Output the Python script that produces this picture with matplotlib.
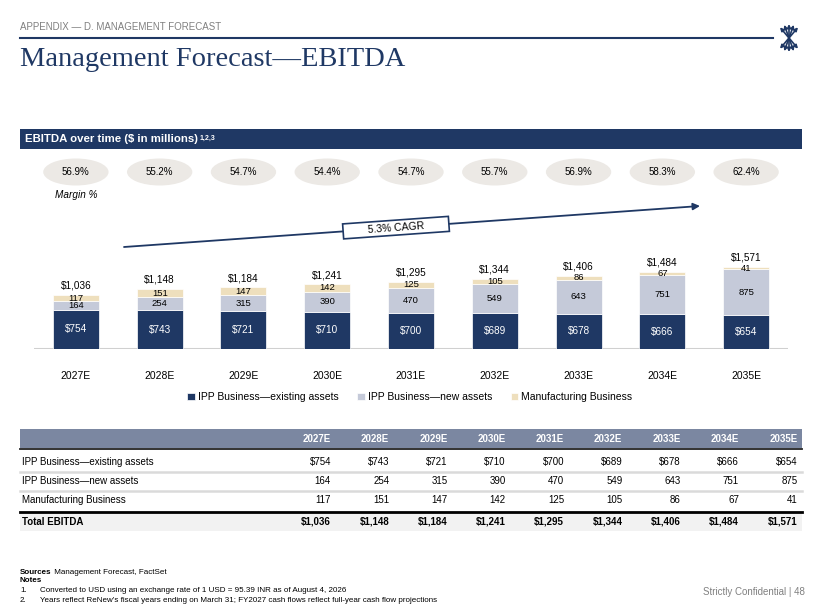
import math
import matplotlib
matplotlib.use("Agg")
import matplotlib.pyplot as plt
import matplotlib.transforms as mtransforms
from matplotlib.patches import Ellipse, Rectangle

# chart data
years = ["2027E", "2028E", "2029E", "2030E", "2031E", "2032E", "2033E", "2034E", "2035E"]
existing = [754, 743, 721, 710, 700, 689, 678, 666, 654]
new_assets = [164, 254, 315, 390, 470, 549, 643, 751, 875]
manufacturing = [117, 151, 147, 142, 125, 105, 86, 67, 41]
totals = [1036, 1148, 1184, 1241, 1295, 1344, 1406, 1484, 1571]
margins = [56.9, 55.2, 54.7, 54.4, 54.7, 55.7, 56.9, 58.3, 62.4]
series_names = ["IPP Business\u2014existing assets", "IPP Business\u2014new assets",
                "Manufacturing Business"]
cagr_label = "5.3% CAGR"

NAVY = "#1f3864"
LIGHT = "#c5cad9"
CREAM = "#eedfbd"
GREY_TXT = "#808080"

plt.rcParams["font.family"] = ["Liberation Sans", "DejaVu Sans"]

fig = plt.figure(figsize=(8.2, 6.15), dpi=100)

# background canvas in pixel units (y down)
bg = fig.add_axes([0, 0, 1, 1])
bg.set_xlim(0, 820)
bg.set_ylim(615, 0)
bg.axis("off")

# header
bg.text(20, 27, "APPENDIX \u2014 D. MANAGEMENT FORECAST", fontsize=7, color=GREY_TXT, va="center")
bg.plot([20, 773], [38, 38], color=NAVY, lw=1.5)
bg.text(20, 66, "Management Forecast\u2014EBITDA", fontsize=20.5, color=NAVY,
        family="Liberation Serif", va="baseline")

# logo: small burst of arrows
cx, cy = 789, 38
for a in [50, 70, 90, 110, 130, 230, 250, 270, 290, 310]:
    r = 14
    ex = cx + r * math.cos(math.radians(a))
    ey = cy - r * math.sin(math.radians(a))
    bg.annotate("", xy=(ex, ey), xytext=(cx, cy),
                arrowprops=dict(arrowstyle="-|>", color=NAVY, lw=1.2, mutation_scale=5,
                                shrinkA=0, shrinkB=0))

# section band
bg.add_patch(Rectangle((20, 129), 782, 20, color=NAVY, lw=0))
band_txt = bg.text(25, 139, "EBITDA over time ($ in millions)", color="white",
                   fontsize=8.2, fontweight="bold", va="center")
bg.annotate("1,2,3", xy=(1, 0.95), xycoords=band_txt, xytext=(1, 0),
            textcoords="offset points", color="white", fontsize=5,
            fontweight="bold", va="top")

# bar chart axes
px_per_unit = 54 / 1036
ax = fig.add_axes([34 / 820, 1 - 349 / 615, 754 / 820, 100 / 615])
ax.set_xlim(-0.5, len(years) - 0.5)
ax.set_ylim(0, 100 / px_per_unit)
ax.axis("off")

x = list(range(len(years)))
w = 0.55
bottom2 = existing
bottom3 = [a + b for a, b in zip(existing, new_assets)]
ax.bar(x, existing, w, color=NAVY, edgecolor="white", lw=0.5, label=series_names[0])
ax.bar(x, new_assets, w, bottom=bottom2, color=LIGHT, edgecolor="white", lw=0.5,
       label=series_names[1])
ax.bar(x, manufacturing, w, bottom=bottom3, color=CREAM, edgecolor="white", lw=0.5,
       label=series_names[2])
ax.axhline(0, color="#d0d0d0", lw=2.2, zorder=0)

for i in x:
    ax.text(i, existing[i] / 2, f"${existing[i]:,}", ha="center", va="center",
            color="white", fontsize=7.2)
    ax.text(i, existing[i] + new_assets[i] / 2, f"{new_assets[i]}", ha="center",
            va="center", color="black", fontsize=6.8)
    ax.text(i, bottom3[i] + manufacturing[i] / 2, f"{manufacturing[i]}", ha="center",
            va="center", color="black", fontsize=6.8)
    ax.annotate(f"${totals[i]:,}", xy=(i, bottom3[i] + manufacturing[i]),
                xytext=(0, 3), textcoords="offset points", ha="center",
                va="bottom", fontsize=7.2)

# blended: x in bar index, y in canvas pixels
blend = mtransforms.blended_transform_factory(ax.transData, bg.transData)
for i in x:
    ax.add_patch(Ellipse((i, 172), 0.78, 27, transform=blend, color="#ece9e5", lw=0,
                         clip_on=False))
    ax.text(i, 172, f"{margins[i]:.1f}%", transform=blend, ha="center", va="center",
            fontsize=7)
    ax.text(i, 376, years[i], transform=blend, ha="center", va="center", fontsize=7.5)
ax.text(0, 195, "Margin %", transform=blend, ha="center", va="center", fontsize=7.2,
        style="italic")

# CAGR arrow
x0, y0, x1, y1 = 124, 247, 700, 206
bg.annotate("", xy=(x1, y1), xytext=(x0, y0),
            arrowprops=dict(arrowstyle="-|>", color=NAVY, lw=1.3, mutation_scale=10,
                            shrinkA=0, shrinkB=0))
ang = math.degrees(math.atan2(y0 - y1, x1 - x0))
bx = 396
by = y0 - (bx - x0) * (y0 - y1) / (x1 - x0)
bw, bh = 106, 15
bg.add_patch(Rectangle((bx - bw / 2, by - bh / 2), bw, bh, angle=-ang,
                       rotation_point="center", fc="white", ec=NAVY, lw=1.2, zorder=3))
bg.text(bx, by, cagr_label, rotation=ang, rotation_mode="anchor", ha="center",
        va="center", fontsize=7.5, zorder=4)

# legend
fig.legend(loc="center", bbox_to_anchor=(410 / 820, 1 - 397 / 615), ncol=3,
           frameon=False, fontsize=7.5, handlelength=0.7, handleheight=0.7,
           handletextpad=0.3, columnspacing=1.8)

# table
col_right = [331 + 58.3 * i for i in range(len(years))]
bg.add_patch(Rectangle((20, 429), 782, 19, color="#7b87a1", lw=0))
bg.plot([20, 802], [449, 449], color="#222222", lw=1.3)
for xr, yr in zip(col_right, years):
    bg.text(xr, 438.5, yr, ha="right", va="center", color="white", fontsize=7,
            fontweight="bold")

rows = [
    (series_names[0], [f"${v:,}" for v in existing]),
    (series_names[1], [f"{v}" for v in new_assets]),
    (series_names[2], [f"{v}" for v in manufacturing]),
]
row_y = [462, 481, 500]
for (label, vals), ry in zip(rows, row_y):
    bg.text(22, ry, label, va="center", fontsize=7)
    for xr, v in zip(col_right, vals):
        bg.text(xr, ry, v, ha="right", va="center", fontsize=7)
for sy in [471.5, 490.5]:
    bg.plot([20, 802], [sy, sy], color="#dadada", lw=1.8)
bg.add_patch(Rectangle((20, 513), 782, 18, color="#f2f2f2", lw=0))
bg.plot([20, 802], [512, 512], color="black", lw=2)
bg.text(22, 522, "Total EBITDA", va="center", fontsize=7, fontweight="bold")
for xr, v in zip(col_right, totals):
    bg.text(xr, 522, f"${v:,}", ha="right", va="center", fontsize=7, fontweight="bold")

# footer
src = bg.text(20, 572, "Sources", fontsize=5.8, fontweight="bold", va="center")
bg.annotate(" Management Forecast, FactSet", xy=(1, 0.5), xycoords=src,
            va="center", fontsize=5.8)
bg.text(20, 581, "Notes", fontsize=5.8, fontweight="bold", va="center")
notes = [
    "Converted to USD using an exchange rate of 1 USD = 95.39 INR as of August 4, 2026",
    "Years reflect ReNew\u2019s fiscal years ending on March 31; FY2027 cash flows reflect "
    "full-year cash flow projections",
]
for k, (ny, note) in enumerate(zip([591, 601], notes)):
    bg.text(20, ny, f"{k + 1}.", fontsize=5.8, va="center")
    bg.text(40, ny, note, fontsize=5.8, va="center")
bg.text(805, 592, "Strictly Confidential | 48", ha="right", va="center", fontsize=7,
        color=GREY_TXT)

fig.savefig("out.png", dpi=100)
